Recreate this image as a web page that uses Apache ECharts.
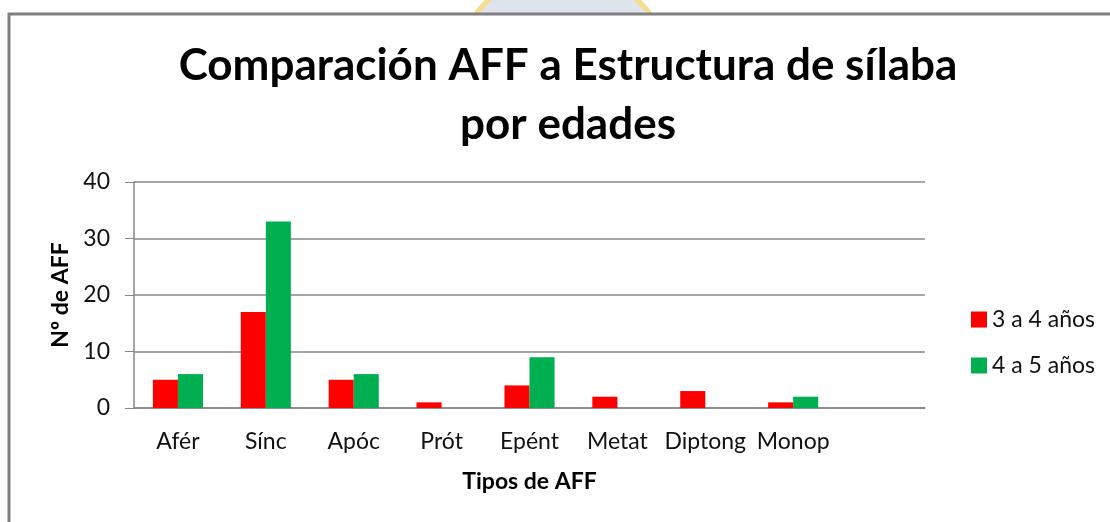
<!DOCTYPE html>
<html>
<head>
    <meta charset="utf-8">
    <title>Comparación AFF a Estructura de sílaba por edades</title>
    <script src="https://cdn.jsdelivr.net/npm/echarts@6/dist/echarts.min.js"></script>
</head>
<body style="margin:0;background:#fff;">
    <div id="main" style="width:1110px;height:522px;"></div>
    <script type="text/javascript">
        var myChart = echarts.init(document.getElementById('main'));
        // datos (el 9º hueco va vacio, como en Excel)
        var categorias = ['Afér', 'Sínc', 'Apóc', 'Prót', 'Epént', 'Metat', 'Diptong', 'Monop', ''];
        var edad3a4 = [5, 17, 5, 1, 4, 2, 3, 1, null];
        var edad4a5 = [6, 33, 6, null, 9, null, null, 2, null];
        var ticksY = [0, 10, 20, 30, 40];

        var fuente = 'Lato';
        var gris = '#878787';

        var option = {
            backgroundColor: '#fff',
            animation: false,
            title: {
                text: 'Comparación AFF a Estructura de sílaba\npor edades',
                left: 563,
                textAlign: 'center',
                top: 31,
                textStyle: {
                    fontFamily: fuente,
                    fontWeight: 'bold',
                    fontSize: 44,
                    lineHeight: 59,
                    color: '#000'
                }
            },
            // marco gris y el logo de fondo que asoma arriba
            graphic: [{
                type: 'circle',
                z: -10,
                shape: {cx: 563, cy: 81, r: 110},
                style: {fill: '#dde4ec', stroke: '#f7dc8c', lineWidth: 5}
            }, {
                type: 'rect',
                z: -9,
                shape: {x: 9, y: 14, width: 1200, height: 600},
                style: {fill: '#fff', stroke: '#808080', lineWidth: 3}
            }],
            grid: {
                left: 134,
                right: 185,
                top: 182,
                bottom: 114
            },
            legend: {
                orient: 'vertical',
                left: 966,
                top: 303,
                icon: 'rect',
                itemWidth: 16,
                itemHeight: 16,
                itemGap: 23,
                textStyle: {fontFamily: fuente, fontSize: 23, color: '#111'}
            },
            xAxis: {
                type: 'category',
                data: categorias,
                name: 'Tipos de AFF',
                nameLocation: 'middle',
                nameGap: 62,
                nameTextStyle: {fontFamily: fuente, fontWeight: 'bold', fontSize: 23, color: '#000'},
                axisLine: {lineStyle: {color: gris, width: 1.5}},
                axisTick: {show: false},
                axisLabel: {fontFamily: fuente, fontSize: 23, color: '#111', margin: 22, interval: 0}
            },
            yAxis: {
                type: 'value',
                min: ticksY[0],
                max: ticksY[ticksY.length - 1],
                interval: 10,
                name: 'Nº de AFF',
                nameLocation: 'middle',
                nameGap: 60,
                nameTextStyle: {fontFamily: fuente, fontWeight: 'bold', fontSize: 23, color: '#000'},
                axisLine: {show: true, lineStyle: {color: gris, width: 1.5}},
                axisTick: {show: true, length: 9, lineStyle: {color: gris}},
                axisLabel: {fontFamily: fuente, fontSize: 23, color: '#111', margin: 24},
                splitLine: {lineStyle: {color: gris, width: 1.5}}
            },
            series: [{
                name: '3 a 4 años',
                type: 'bar',
                data: edad3a4,
                itemStyle: {color: '#ff0000'},
                barGap: 0,
                barCategoryGap: '43%'
            }, {
                name: '4 a 5 años',
                type: 'bar',
                data: edad4a5,
                itemStyle: {color: '#00b050'},
                barGap: 0,
                barCategoryGap: '43%'
            }]
        };
        myChart.setOption(option);
    </script>
</body>
</html>
